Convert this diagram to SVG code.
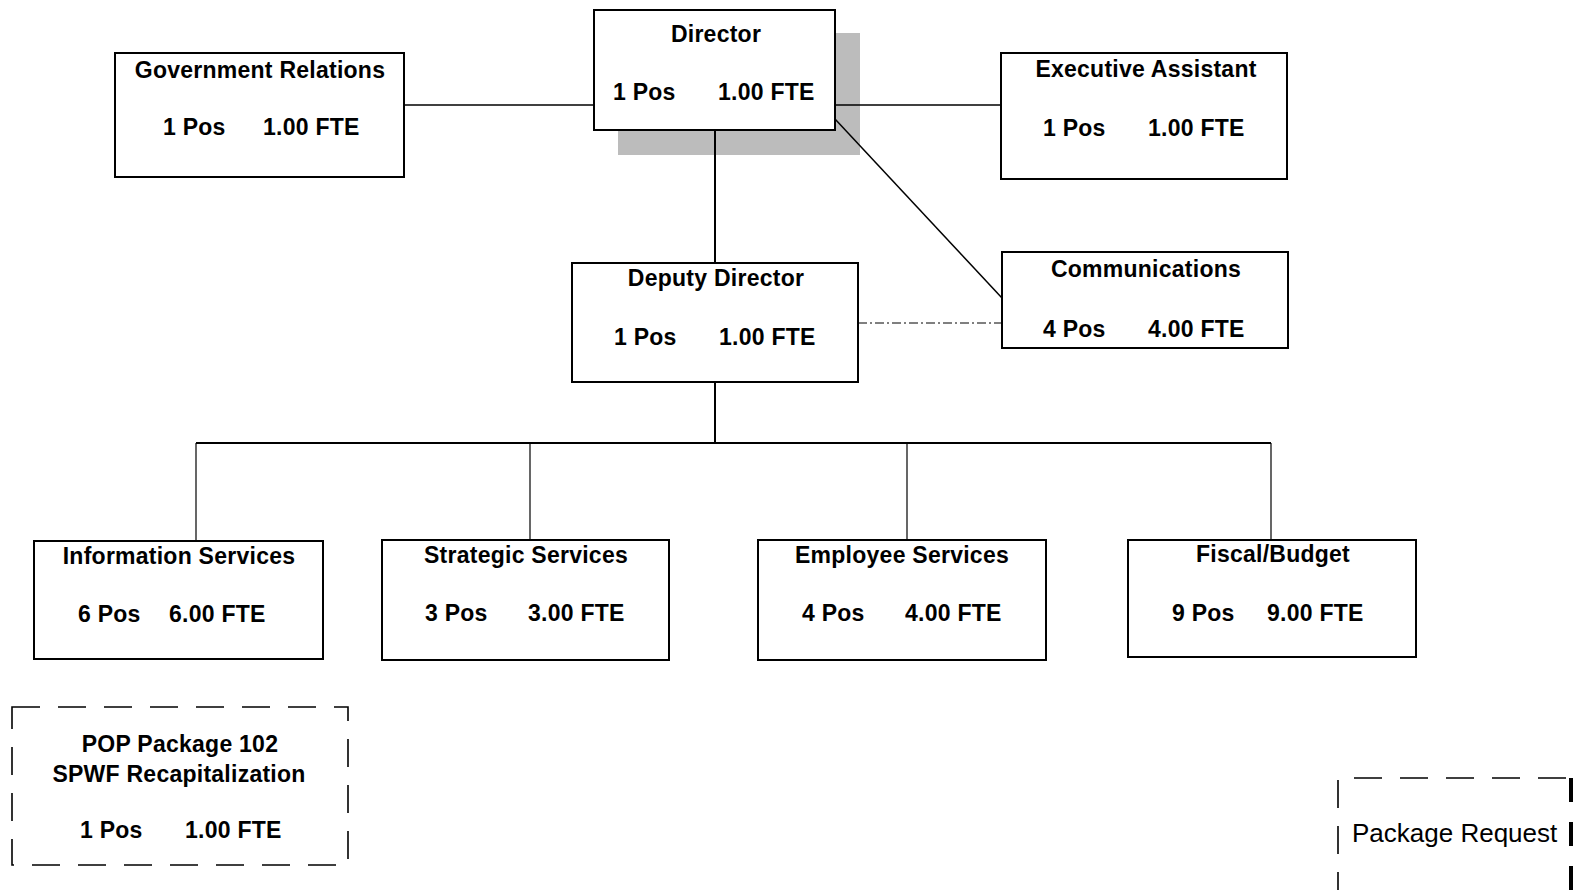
<svg xmlns="http://www.w3.org/2000/svg" width="1575" height="890" viewBox="0 0 1575 890">
<style>
.box{fill:#fff;stroke:#000;stroke-width:2}
.dbox{fill:none;stroke:#000;stroke-width:1.6;stroke-dasharray:28 18}
.t{font-family:"Liberation Sans",Arial,sans-serif;font-weight:bold;font-size:23px;letter-spacing:0.25px;fill:#000}
.m{text-anchor:middle}
.c{stroke:#000;fill:none}
</style>
<rect width="1575" height="890" fill="#fff"/>
<g id="director-shadow">
<rect x="618" y="33" width="242" height="122" fill="#bcbcbc"/>
</g>
<g id="connectors">
<line class="c" x1="404" y1="105" x2="594" y2="105" stroke-width="1.5"/>
<line class="c" x1="835" y1="105" x2="1001" y2="105" stroke-width="1.5"/>
<line class="c" x1="835" y1="119" x2="1002" y2="298" stroke-width="1.5"/>
<line class="c" x1="858" y1="323" x2="1002" y2="323" stroke-width="1" stroke="#555" stroke-dasharray="9 3 2 3"/>
<line class="c" x1="715" y1="130" x2="715" y2="263" stroke-width="2"/>
<line class="c" x1="715" y1="382" x2="715" y2="443" stroke-width="2"/>
<line class="c" x1="196" y1="443" x2="1271" y2="443" stroke-width="2"/>
<line class="c" x1="196" y1="443" x2="196" y2="541" stroke-width="1.2"/>
<line class="c" x1="530" y1="443" x2="530" y2="540" stroke-width="1.2"/>
<line class="c" x1="907" y1="443" x2="907" y2="540" stroke-width="1.2"/>
<line class="c" x1="1271" y1="443" x2="1271" y2="540" stroke-width="1.2"/>
</g>
<g id="director">
<rect class="box" x="594" y="10" width="241" height="120"/>
<text class="t m" x="716" y="42">Director</text>
<text class="t" x="613" y="100">1 Pos</text>
<text class="t" x="718" y="100">1.00 FTE</text>
</g>
<g id="government-relations">
<rect class="box" x="115" y="53" width="289" height="124"/>
<text class="t m" x="260" y="78">Government Relations</text>
<text class="t" x="163" y="135">1 Pos</text>
<text class="t" x="263" y="135">1.00 FTE</text>
</g>
<g id="executive-assistant">
<rect class="box" x="1001" y="53" width="286" height="126"/>
<text class="t m" x="1146" y="77">Executive Assistant</text>
<text class="t" x="1043" y="136">1 Pos</text>
<text class="t" x="1148" y="136">1.00 FTE</text>
</g>
<g id="communications">
<rect class="box" x="1002" y="252" width="286" height="96"/>
<text class="t m" x="1146" y="277">Communications</text>
<text class="t" x="1043" y="337">4 Pos</text>
<text class="t" x="1148" y="337">4.00 FTE</text>
</g>
<g id="deputy-director">
<rect class="box" x="572" y="263" width="286" height="119"/>
<text class="t m" x="716" y="286">Deputy Director</text>
<text class="t" x="614" y="345">1 Pos</text>
<text class="t" x="719" y="345">1.00 FTE</text>
</g>
<g id="information-services">
<rect class="box" x="34" y="541" width="289" height="118"/>
<text class="t m" x="179" y="564">Information Services</text>
<text class="t" x="78" y="622">6 Pos</text>
<text class="t" x="169" y="622">6.00 FTE</text>
</g>
<g id="strategic-services">
<rect class="box" x="382" y="540" width="287" height="120"/>
<text class="t m" x="526" y="563">Strategic Services</text>
<text class="t" x="425" y="621">3 Pos</text>
<text class="t" x="528" y="621">3.00 FTE</text>
</g>
<g id="employee-services">
<rect class="box" x="758" y="540" width="288" height="120"/>
<text class="t m" x="902" y="563">Employee Services</text>
<text class="t" x="802" y="621">4 Pos</text>
<text class="t" x="905" y="621">4.00 FTE</text>
</g>
<g id="fiscal-budget">
<rect class="box" x="1128" y="540" width="288" height="117"/>
<text class="t m" x="1273" y="562">Fiscal/Budget</text>
<text class="t" x="1172" y="621">9 Pos</text>
<text class="t" x="1267" y="621">9.00 FTE</text>
</g>
<g id="pop-package">
<rect class="dbox" x="12" y="707" width="336" height="158"/>
<text class="t m" x="180" y="752">POP Package 102</text>
<text class="t m" x="179" y="782">SPWF Recapitalization</text>
<text class="t" x="80" y="838">1 Pos</text>
<text class="t" x="185" y="838">1.00 FTE</text>
</g>
<g id="package-request">
<path class="dbox" d="M1338 900 V778 H1570"/>
<line x1="1571" y1="778" x2="1571" y2="890" stroke="#000" stroke-width="4" stroke-dasharray="24 20"/>
<text x="1352" y="842" font-family="Liberation Sans, Arial, sans-serif" font-size="26" fill="#000">Package Request</text>
</g>
</svg>
